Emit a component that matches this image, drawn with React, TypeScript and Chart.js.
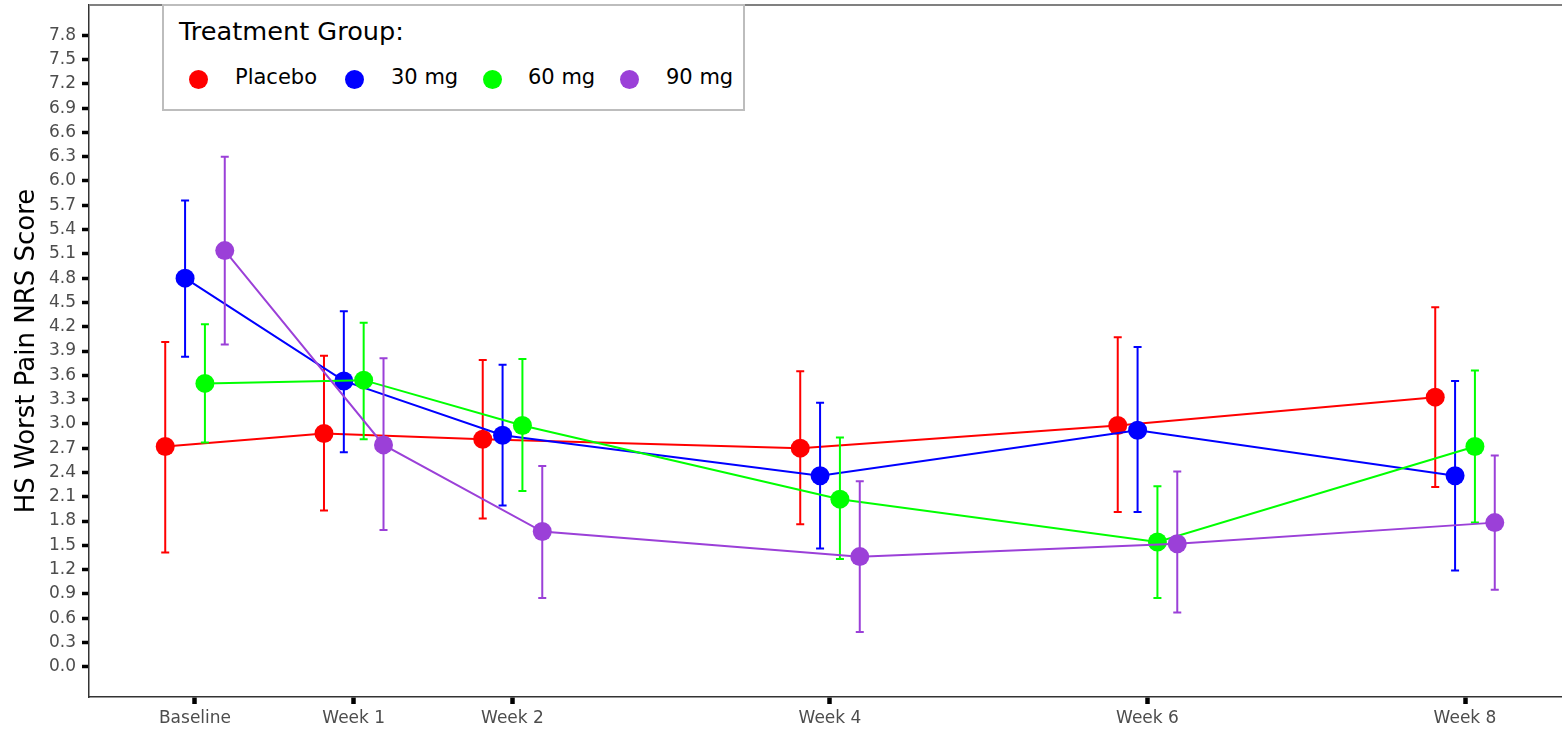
import React, { useEffect, useRef } from 'react';
import { Chart, registerables } from 'chart.js';

Chart.register(...registerables);

// ---------- data ----------
const weeks = [0, 1, 2, 4, 6, 8];
const weekLabels = ['Baseline', 'Week 1', 'Week 2', 'Week 4', 'Week 6', 'Week 8'];
const yTickValues = [0.0, 0.3, 0.6, 0.9, 1.2, 1.5, 1.8, 2.1, 2.4, 2.7, 3.0, 3.3, 3.6, 3.9, 4.2, 4.5, 4.8, 5.1, 5.4, 5.7, 6.0, 6.3, 6.6, 6.9, 7.2, 7.5, 7.8];

const groups = ['Placebo', '30 mg', '60 mg', '90 mg'];
const groupColors = ['#FF0000', '#0000FF', '#00FF00', '#9B40D8'];
const dodgeOffsets = [-0.1875, -0.0625, 0.0625, 0.1875];

const placeboMean = [2.72, 2.88, 2.81, 2.70, 2.98, 3.33];
const placeboLower = [1.41, 1.93, 1.83, 1.76, 1.91, 2.22];
const placeboUpper = [4.01, 3.84, 3.79, 3.65, 4.07, 4.44];

const mg30Mean = [4.80, 3.53, 2.86, 2.36, 2.92, 2.36];
const mg30Lower = [3.83, 2.65, 1.99, 1.46, 1.91, 1.19];
const mg30Upper = [5.76, 4.39, 3.73, 3.26, 3.95, 3.53];

const mg60Mean = [3.50, 3.54, 2.98, 2.07, 1.54, 2.72];
const mg60Lower = [2.77, 2.81, 2.17, 1.33, 0.85, 1.78];
const mg60Upper = [4.23, 4.25, 3.80, 2.83, 2.23, 3.66];

const mg90Mean = [5.14, 2.74, 1.67, 1.36, 1.52, 1.78];
const mg90Lower = [3.98, 1.69, 0.85, 0.43, 0.67, 0.95];
const mg90Upper = [6.30, 3.81, 2.48, 2.29, 2.41, 2.61];

const means = [placeboMean, mg30Mean, mg60Mean, mg90Mean];
const lowers = [placeboLower, mg30Lower, mg60Lower, mg90Lower];
const uppers = [placeboUpper, mg30Upper, mg60Upper, mg90Upper];

const FONT = 'DejaVu Sans';
const CANVAS_W = 1580;
const CANVAS_H = 730;
const VIEW_W = 1562;

const errorBarPlugin = {
  id: 'errorBars',
  beforeDatasetDraw(chart: any, args: any) {
    const i = args.index;
    const ds = chart.data.datasets[i];
    const xs = chart.scales.x;
    const ys = chart.scales.y;
    const ctx = chart.ctx;
    ctx.save();
    ctx.strokeStyle = ds.borderColor;
    ctx.lineWidth = 2;
    const lo = ds.errLower as number[];
    const hi = ds.errUpper as number[];
    ds.data.forEach((p: any, j: number) => {
      const px = xs.getPixelForValue(p.x);
      const y1 = ys.getPixelForValue(lo[j]);
      const y2 = ys.getPixelForValue(hi[j]);
      ctx.beginPath();
      ctx.moveTo(px, y1);
      ctx.lineTo(px, y2);
      ctx.moveTo(px - 4, y1);
      ctx.lineTo(px + 4, y1);
      ctx.moveTo(px - 4, y2);
      ctx.lineTo(px + 4, y2);
      ctx.stroke();
    });
    ctx.restore();
  },
};

const topBorderPlugin = {
  id: 'topBorder',
  beforeDatasetsDraw(chart: any) {
    const { ctx, chartArea } = chart;
    ctx.save();
    ctx.strokeStyle = '#808080';
    ctx.lineWidth = 2;
    ctx.beginPath();
    ctx.moveTo(chartArea.left, chartArea.top);
    ctx.lineTo(chartArea.right, chartArea.top);
    ctx.stroke();
    ctx.restore();
  },
};

export default function App() {
  const ref = useRef<HTMLCanvasElement>(null);

  useEffect(() => {
    const datasets = groups.map((g, gi) => ({
      label: g,
      data: weeks.map((w, j) => ({ x: w + dodgeOffsets[gi], y: means[gi][j] })),
      errLower: lowers[gi],
      errUpper: uppers[gi],
      borderColor: groupColors[gi],
      backgroundColor: groupColors[gi],
      pointBackgroundColor: groupColors[gi],
      pointBorderWidth: 0,
      pointRadius: 9.5,
      borderWidth: 2,
      tension: 0,
      order: groups.length - gi,
    }));

    const chart = new Chart(ref.current as HTMLCanvasElement, {
      type: 'line',
      data: { datasets: datasets as any },
      plugins: [errorBarPlugin, topBorderPlugin],
      options: {
        animation: false,
        responsive: false,
        devicePixelRatio: 1,
        layout: { autoPadding: false, padding: { top: 5, right: 0, bottom: 0, left: 0 } },
        plugins: {
          legend: { display: false },
          tooltip: { enabled: false },
        },
        scales: {
          x: {
            type: 'linear',
            min: -0.6677,
            max: 8.7244,
            afterBuildTicks: (scale: any) => {
              scale.ticks = weeks.map((v) => ({ value: v }));
            },
            afterFit: (scale: any) => {
              scale.height = 33;
              scale.paddingLeft = 0;
              scale.paddingRight = 0;
              scale.paddingTop = 0;
              scale.paddingBottom = 0;
            },
            ticks: {
              autoSkip: false,
              maxRotation: 0,
              padding: 4,
              color: '#4D4D4D',
              font: { family: FONT, size: 17 },
              callback: (v: any) => {
                const k = weeks.indexOf(Number(v));
                return k >= 0 ? weekLabels[k] : '';
              },
            },
            grid: {
              drawOnChartArea: false,
              drawTicks: true,
              tickLength: 7,
              tickWidth: 4.5,
              tickColor: '#000000',
            },
            border: { display: true, color: '#333333', width: 1.5 },
          },
          y: {
            type: 'linear',
            min: -0.374,
            max: 8.174,
            afterBuildTicks: (scale: any) => {
              scale.ticks = yTickValues.map((v) => ({ value: v }));
            },
            afterFit: (scale: any) => {
              scale.width = 89;
              scale.paddingLeft = 0;
              scale.paddingRight = 0;
              scale.paddingTop = 0;
              scale.paddingBottom = 0;
            },
            ticks: {
              autoSkip: false,
              padding: 6,
              color: '#4D4D4D',
              font: { family: FONT, size: 17 },
              callback: (v: any) => Number(v).toFixed(1),
            },
            grid: {
              drawOnChartArea: false,
              drawTicks: true,
              tickLength: 7,
              tickWidth: 3.5,
              tickColor: '#000000',
            },
            border: { display: true, color: '#333333', width: 1.5 },
            title: {
              display: true,
              text: 'HS Worst Pain NRS Score',
              color: '#000000',
              font: { family: FONT, size: 26, weight: 'normal' },
              padding: { top: 12, bottom: 0 },
            },
          },
        },
      } as any,
    });
    return () => chart.destroy();
  }, []);

  const legendDots = [198, 354, 492, 629];
  const legendTexts = [235, 391, 528, 666];

  return (
    <div style={{ position: 'fixed', left: 0, top: 0, width: VIEW_W, height: CANVAS_H, background: '#ffffff', overflow: 'hidden' }}>
      <canvas ref={ref} width={CANVAS_W} height={CANVAS_H} style={{ display: 'block', width: CANVAS_W, height: CANVAS_H }} />
      <div
        style={{
          position: 'absolute',
          right: 0,
          top: 7,
          width: 4,
          height: 688,
          background: '#ffffff',
        }}
      />
      <div
        style={{
          position: 'absolute',
          left: 162,
          top: 4,
          width: 583,
          height: 107,
          boxSizing: 'border-box',
          border: '2px solid #BDBDBD',
          background: '#ffffff',
          fontFamily: FONT,
          color: '#000000',
        }}
      >
        <div style={{ position: 'absolute', left: 15, top: 13, fontSize: 25.6, lineHeight: '25px', whiteSpace: 'nowrap' }}>
          Treatment Group:
        </div>
        {groups.map((g, i) => (
          <React.Fragment key={g}>
            <div
              style={{
                position: 'absolute',
                left: legendDots[i] - 164 - 9.5,
                top: 79 - 6 - 9.5,
                width: 19,
                height: 19,
                borderRadius: '50%',
                background: groupColors[i],
              }}
            />
            <div
              style={{
                position: 'absolute',
                left: legendTexts[i] - 164,
                top: 67 - 6,
                fontSize: 21,
                lineHeight: '21px',
                whiteSpace: 'nowrap',
              }}
            >
              {g}
            </div>
          </React.Fragment>
        ))}
      </div>
    </div>
  );
}
